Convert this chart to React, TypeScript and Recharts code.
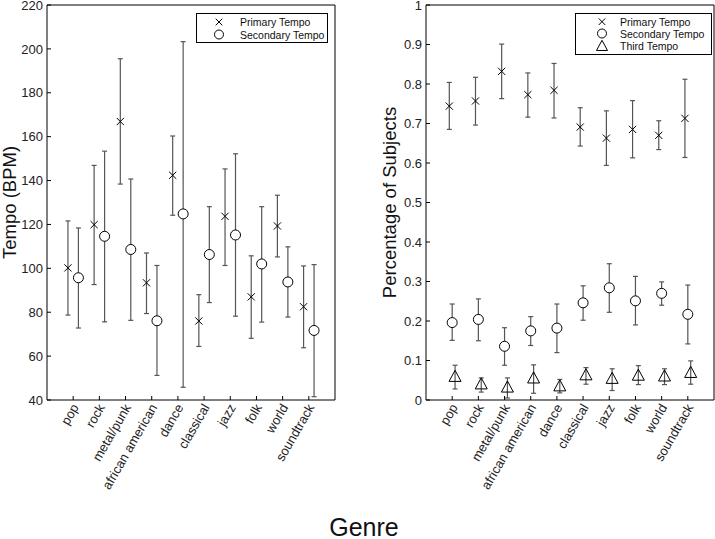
import React from 'react'
import { ComposedChart, Scatter, ErrorBar, XAxis, YAxis, Legend } from 'recharts'

const genres = ['pop', 'rock', 'metal/punk', 'african american', 'dance', 'classical', 'jazz', 'folk', 'world', 'soundtrack']

// left panel: tempo in BPM
const primaryBpm = [100.2, 119.9, 166.9, 93.4, 142.4, 76.0, 123.7, 87.0, 119.3, 82.5]
const primaryBpmLow = [78.7, 92.6, 138.4, 79.4, 124.2, 64.4, 101.3, 68.1, 105.2, 63.8]
const primaryBpmHigh = [121.6, 146.9, 195.5, 107.0, 160.3, 88.0, 145.3, 105.7, 133.3, 101.1]
const secondaryBpm = [95.7, 114.6, 108.6, 76.1, 124.8, 106.3, 115.2, 102.0, 93.8, 71.7]
const secondaryBpmLow = [72.8, 75.6, 76.3, 51.2, 45.8, 84.4, 78.2, 75.5, 77.8, 41.5]
const secondaryBpmHigh = [118.4, 153.4, 140.7, 101.3, 203.3, 128.1, 152.2, 128.1, 109.8, 101.7]

// right panel: share of subjects
const primaryPct = [0.744, 0.757, 0.832, 0.773, 0.784, 0.691, 0.663, 0.685, 0.67, 0.713]
const primaryPctLow = [0.685, 0.696, 0.763, 0.716, 0.714, 0.643, 0.594, 0.613, 0.634, 0.614]
const primaryPctHigh = [0.804, 0.817, 0.901, 0.828, 0.852, 0.74, 0.732, 0.758, 0.707, 0.812]
const secondaryPct = [0.196, 0.204, 0.136, 0.175, 0.182, 0.246, 0.284, 0.251, 0.27, 0.217]
const secondaryPctLow = [0.151, 0.15, 0.088, 0.138, 0.12, 0.202, 0.222, 0.19, 0.24, 0.142]
const secondaryPctHigh = [0.243, 0.256, 0.183, 0.211, 0.243, 0.289, 0.345, 0.313, 0.299, 0.291]
const thirdPct = [0.06, 0.041, 0.033, 0.056, 0.036, 0.064, 0.055, 0.063, 0.061, 0.07]
const thirdPctLow = [0.028, 0.02, 0.005, 0.017, 0.018, 0.04, 0.024, 0.039, 0.039, 0.04]
const thirdPctHigh = [0.088, 0.056, 0.056, 0.089, 0.052, 0.082, 0.079, 0.087, 0.079, 0.099]

const bpmTicks = [40, 60, 80, 100, 120, 140, 160, 180, 200, 220]
const pctTicks = [0, 0.1, 0.2, 0.3, 0.4, 0.5, 0.6, 0.7, 0.8, 0.9, 1]
const catTicks = genres.map((_, i) => i + 1)

const FONT = '"Liberation Sans", Arial, Helvetica, sans-serif'
const BAR = '#555'

const toRows = (vals: number[], lows: number[], highs: number[], shift: number) =>
  vals.map((v, i) => ({ x: i + 1 + shift, y: v, err: [v - lows[i], highs[i] - v] }))

function Cross({ cx, cy, s = 3.6 }: any) {
  return (
    <path
      d={`M${cx - s},${cy - s}L${cx + s},${cy + s}M${cx - s},${cy + s}L${cx + s},${cy - s}`}
      stroke="#000"
      strokeWidth={1}
      fill="none"
    />
  )
}

function Ring({ cx, cy, r = 5 }: any) {
  return <circle cx={cx} cy={cy} r={r} stroke="#000" strokeWidth={1} fill="#fff" />
}

function Tri({ cx, cy, s = 6 }: any) {
  return (
    <path
      d={`M${cx},${cy - s}L${cx + s},${cy + s * 0.85}L${cx - s},${cy + s * 0.85}Z`}
      stroke="#000"
      strokeWidth={1}
      fill="none"
    />
  )
}

function GenreTick({ x, y, payload }: any) {
  const label = genres[payload.value - 1]
  const tx = x + 2
  const ty = y + 1
  return (
    <text
      x={tx}
      y={ty}
      dy="0.35em"
      textAnchor="end"
      transform={`rotate(-60 ${tx} ${ty})`}
      fontSize={13}
      fontFamily={FONT}
      fill="#222"
    >
      {label}
    </text>
  )
}

function YTitle({ viewBox, value, dx }: any) {
  const cx = viewBox.x + dx
  const cy = viewBox.y + viewBox.height / 2
  return (
    <text
      x={cx}
      y={cy}
      textAnchor="middle"
      transform={`rotate(-90 ${cx} ${cy})`}
      fontSize={18.5}
      fontFamily={FONT}
      fill="#111"
    >
      {value}
    </text>
  )
}

const legendShapes = [Cross, Ring, Tri]

function LegendBox({ names, width, height, symX, textX, rows }: any) {
  return (
    <svg width={width} height={height} style={{ display: 'block' }}>
      <rect x={0.5} y={0.5} width={width - 1} height={height - 1} fill="#fff" stroke="#000" />
      {names.map((n: string, i: number) => {
        const Shape = legendShapes[i]
        return (
          <g key={n}>
            <Shape cx={symX} cy={rows[i] - 4} r={4.5} s={i === 2 ? 5.5 : 3.3} />
            <text x={textX} y={rows[i]} fontSize={10.5} fontFamily={FONT} fill="#111">
              {n}
            </text>
          </g>
        )
      })}
    </svg>
  )
}

function Axes({ domain, ticks, fmt, title, titleDx }: any) {
  return [
    <XAxis
      key="xb"
      xAxisId="b"
      dataKey="x"
      type="number"
      domain={[0, 11]}
      ticks={catTicks}
      interval={0}
      height={100}
      tickSize={-4}
      tickMargin={8}
      tick={<GenreTick />}
      axisLine={{ stroke: '#000' }}
      tickLine={{ stroke: '#000' }}
    />,
    <XAxis
      key="xt"
      xAxisId="t"
      dataKey="x"
      orientation="top"
      type="number"
      domain={[0, 11]}
      ticks={catTicks}
      interval={0}
      height={1}
      tickSize={-4}
      tick={false}
      axisLine={{ stroke: '#000' }}
      tickLine={{ stroke: '#000' }}
    />,
    <YAxis
      key="yl"
      yAxisId="l"
      dataKey="y"
      type="number"
      domain={domain}
      ticks={ticks}
      interval={0}
      width={35}
      tickSize={-4}
      tickMargin={8}
      tickFormatter={fmt}
      tick={{ fontSize: 13, fontFamily: FONT, fill: '#222' }}
      axisLine={{ stroke: '#000' }}
      tickLine={{ stroke: '#000' }}
      label={<YTitle value={title} dx={titleDx} />}
    />,
    <YAxis
      key="yr"
      yAxisId="r"
      dataKey="y"
      orientation="right"
      type="number"
      domain={domain}
      ticks={ticks}
      interval={0}
      width={1}
      tickSize={-4}
      tick={false}
      axisLine={{ stroke: '#000' }}
      tickLine={{ stroke: '#000' }}
    />,
  ]
}

// invisible series that ties the box axes (top / right) to the same scale
const Nothing = () => null

export default function App() {
  const bpmPrimary = toRows(primaryBpm, primaryBpmLow, primaryBpmHigh, -0.2)
  const bpmSecondary = toRows(secondaryBpm, secondaryBpmLow, secondaryBpmHigh, 0.2)
  const pctPrimary = toRows(primaryPct, primaryPctLow, primaryPctHigh, -0.11)
  const pctSecondary = toRows(secondaryPct, secondaryPctLow, secondaryPctHigh, 0)
  const pctThird = toRows(thirdPct, thirdPctLow, thirdPctHigh, 0.11)
  const pctFmt = (v: number) => String(Number(v.toFixed(1)))

  return (
    <div
      style={{
        position: 'absolute',
        left: 0,
        top: 0,
        width: 715,
        height: 539,
        background: '#fff',
        fontFamily: FONT,
      }}
    >
      <div style={{ position: 'absolute', left: 0, top: 0 }}>
        <ComposedChart width={340} height={500} margin={{ top: 4, right: 4, left: 12, bottom: 0 }}>
          {Axes({ domain: [40, 220], ticks: bpmTicks, fmt: (v: number) => String(v), title: 'Tempo (BPM)', titleDx: 4 })}
          <Legend
            layout="vertical"
            align="center"
            verticalAlign="middle"
            wrapperStyle={{ left: 196, top: 13, width: 132, height: 30 }}
            content={() => (
              <LegendBox
                names={['Primary Tempo', 'Secondary Tempo']}
                width={132}
                height={30}
                symX={23}
                textX={44}
                rows={[13, 25.5]}
              />
            )}
          />
          <Scatter data={bpmPrimary} xAxisId="t" yAxisId="r" shape={<Nothing />} legendType="none" isAnimationActive={false} />
          <Scatter name="Primary Tempo" data={bpmPrimary} xAxisId="b" yAxisId="l" shape={<Cross />} isAnimationActive={false}>
            <ErrorBar dataKey="err" direction="y" width={2.5} stroke={BAR} strokeWidth={1.2} />
          </Scatter>
          <Scatter name="Secondary Tempo" data={bpmSecondary} xAxisId="b" yAxisId="l" shape={<Ring />} isAnimationActive={false}>
            <ErrorBar dataKey="err" direction="y" width={2.5} stroke={BAR} strokeWidth={1.2} />
          </Scatter>
        </ComposedChart>
      </div>
      <div style={{ position: 'absolute', left: 380, top: 0 }}>
        <ComposedChart width={335} height={500} margin={{ top: 4, right: 0, left: 11, bottom: 0 }}>
          {Axes({ domain: [0, 1], ticks: pctTicks, fmt: pctFmt, title: 'Percentage of Subjects', titleDx: 5 })}
          <Legend
            layout="vertical"
            align="center"
            verticalAlign="middle"
            wrapperStyle={{ left: 195, top: 13, width: 137, height: 42 }}
            content={() => (
              <LegendBox
                names={['Primary Tempo', 'Secondary Tempo', 'Third Tempo']}
                width={137}
                height={42}
                symX={27}
                textX={45}
                rows={[12.7, 24.5, 36.8]}
              />
            )}
          />
          <Scatter data={pctPrimary} xAxisId="t" yAxisId="r" shape={<Nothing />} legendType="none" isAnimationActive={false} />
          <Scatter name="Primary Tempo" data={pctPrimary} xAxisId="b" yAxisId="l" shape={<Cross />} isAnimationActive={false}>
            <ErrorBar dataKey="err" direction="y" width={2.5} stroke={BAR} strokeWidth={1.2} />
          </Scatter>
          <Scatter name="Secondary Tempo" data={pctSecondary} xAxisId="b" yAxisId="l" shape={<Ring />} isAnimationActive={false}>
            <ErrorBar dataKey="err" direction="y" width={2.5} stroke={BAR} strokeWidth={1.2} />
          </Scatter>
          <Scatter name="Third Tempo" data={pctThird} xAxisId="b" yAxisId="l" shape={<Tri />} isAnimationActive={false}>
            <ErrorBar dataKey="err" direction="y" width={2.5} stroke={BAR} strokeWidth={1.2} />
          </Scatter>
        </ComposedChart>
      </div>
      <svg width={715} height={539} style={{ position: 'absolute', left: 0, top: 0, pointerEvents: 'none' }}>
        <text x={364} y={536} textAnchor="middle" fontSize={25} fontFamily={FONT} fill="#111">
          Genre
        </text>
      </svg>
    </div>
  )
}
